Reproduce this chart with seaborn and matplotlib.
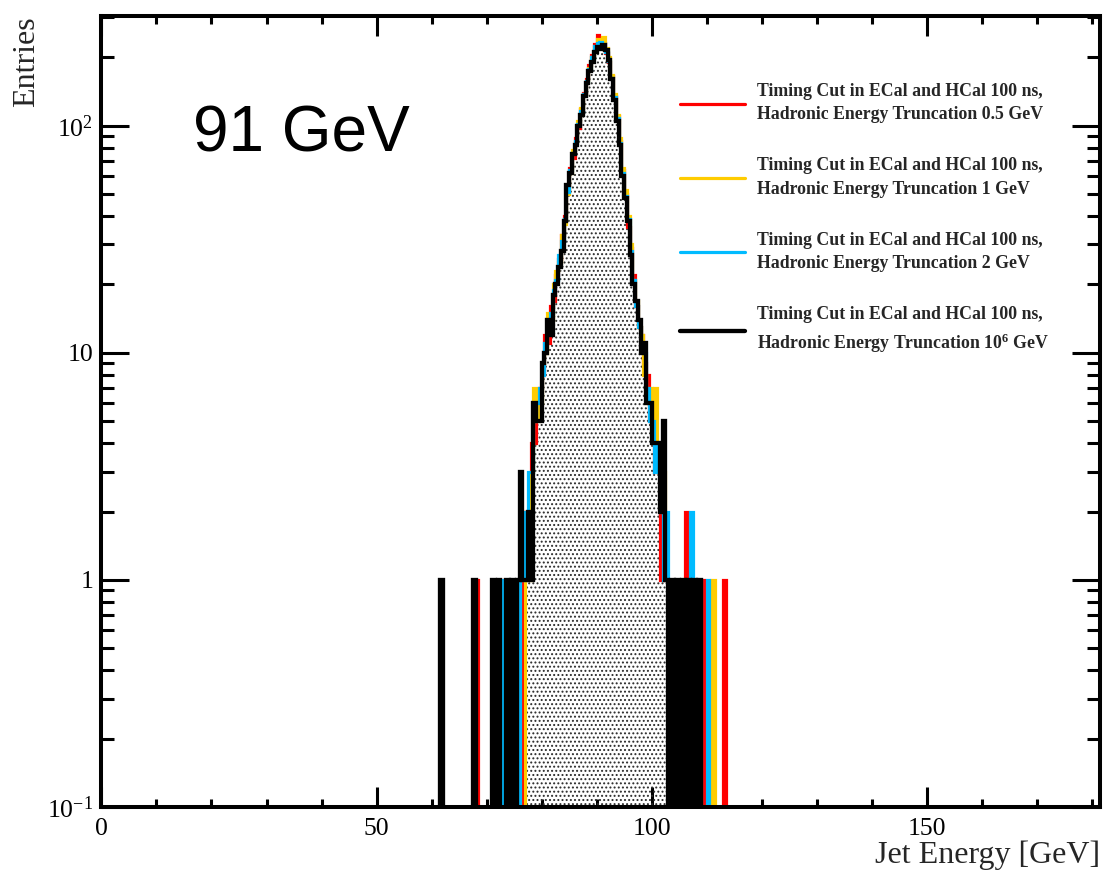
import numpy as np
import pandas as pd
import matplotlib
matplotlib.use("Agg")
import matplotlib.pyplot as plt
from matplotlib.lines import Line2D
from matplotlib.ticker import FixedLocator, FixedFormatter, NullFormatter
import seaborn as sns

# Jet energy histograms, 0.5 GeV bins starting at 60 GeV
bin_low = 60.0
bin_width = 0.5

trunc_0p5 = [
    0, 0, 0, 0, 0, 0, 0, 0, 0, 0,
    0, 0, 0, 0, 0, 0, 1, 0, 0, 0,
    0, 0, 0, 1, 0, 1, 0, 0, 1, 0,
    1, 1, 0, 2, 1, 2, 4, 4, 6, 7,
    8, 12, 11, 16, 17, 22, 26, 33, 40, 52,
    65, 72, 88, 98, 118, 140, 160, 185, 205, 230,
    250, 240, 232, 210, 190, 165, 135, 110, 86, 64,
    50, 36, 29, 22, 16, 13, 12, 9, 8, 5,
    6, 3, 3, 1, 2, 1, 1, 0, 1, 0,
    1, 0, 2, 0, 0, 0, 1, 0, 1, 0,
    0, 0, 0, 0, 0, 0, 1, 0, 0, 0,
]
trunc_1 = [
    0, 0, 0, 0, 0, 0, 0, 0, 0, 0,
    0, 0, 0, 0, 0, 0, 0, 0, 0, 0,
    0, 0, 1, 0, 0, 0, 0, 1, 0, 0,
    0, 1, 0, 0, 2, 1, 3, 7, 5, 6,
    9, 10, 15, 14, 20, 23, 25, 33, 37, 50,
    62, 78, 85, 105, 120, 138, 158, 180, 200, 222,
    240, 238, 245, 220, 200, 168, 138, 112, 88, 65,
    52, 40, 30, 21, 17, 13, 12, 8, 6, 7,
    4, 7, 3, 2, 3, 1, 0, 1, 0, 1,
    0, 1, 0, 1, 0, 0, 1, 0, 0, 0,
    0, 0, 1, 0, 0, 0, 0, 0, 0, 0,
]
trunc_2 = [
    0, 0, 0, 0, 0, 0, 0, 0, 0, 0,
    0, 0, 0, 0, 0, 0, 0, 0, 0, 0,
    0, 0, 0, 0, 0, 0, 1, 0, 0, 1,
    0, 0, 1, 2, 1, 3, 3, 5, 6, 7,
    8, 11, 13, 15, 19, 21, 27, 31, 39, 51,
    64, 76, 86, 102, 116, 138, 157, 178, 200, 225,
    232, 235, 228, 212, 192, 162, 134, 108, 84, 62,
    49, 39, 28, 21, 16, 13, 11, 10, 7, 5,
    5, 3, 4, 2, 1, 2, 1, 0, 1, 0,
    1, 0, 0, 0, 2, 0, 0, 1, 0, 0,
    1, 0, 0, 0, 0, 0, 0, 0, 0, 0,
]
trunc_1e6 = [
    0, 0, 0, 1, 0, 0, 0, 0, 0, 0,
    0, 0, 0, 0, 0, 1, 0, 0, 0, 0,
    0, 0, 1, 0, 1, 0, 0, 1, 0, 1,
    0, 1, 3, 1, 1, 2, 1, 6, 5, 5,
    9, 10, 14, 12, 18, 20, 24, 28, 38, 55,
    62, 75, 82, 100, 112, 135, 155, 175, 190, 212,
    222, 218, 226, 215, 195, 160, 130, 105, 82, 60,
    48, 38, 27, 20, 17, 14, 10, 11, 6, 6,
    4, 4, 4, 2, 5, 1, 0, 1, 0, 1,
    0, 1, 0, 1, 0, 1, 0, 1, 0, 0,
    0, 0, 0, 0, 0, 0, 0, 0, 0, 0,
]

series_labels = [
    "Timing Cut in ECal and HCal 100 ns,\nHadronic Energy Truncation 0.5 GeV",
    "Timing Cut in ECal and HCal 100 ns,\nHadronic Energy Truncation 1 GeV",
    "Timing Cut in ECal and HCal 100 ns,\nHadronic Energy Truncation 2 GeV",
    "Timing Cut in ECal and HCal 100 ns,\nHadronic Energy Truncation 10$^{6}$ GeV",
]
series_colors = ["#ff0000", "#ffcc00", "#00bbff", "#000000"]
series_widths = [2.3, 2.3, 2.3, 3.1]

x_major = [0, 50, 100, 150]
x_major_labels = ["0", "50", "100", "150"]
y_major = [0.1, 1, 10, 100]
y_major_labels = ["10$^{-1}$", "1", "10", "10$^{2}$"]

sns.set_theme(style="ticks")
plt.rcParams["font.family"] = ["Liberation Serif", "DejaVu Serif"]
plt.rcParams["mathtext.fontset"] = "custom"
plt.rcParams["mathtext.rm"] = "Liberation Serif"
plt.rcParams["mathtext.it"] = "Liberation Serif:italic"
plt.rcParams["mathtext.bf"] = "Liberation Serif:bold"
plt.rcParams["mathtext.default"] = "regular"
plt.rcParams["hatch.linewidth"] = 0.9
plt.rcParams["hatch.color"] = "#2a2a2a"

fig = plt.figure(figsize=(11.04, 8.80), dpi=100)
ax = fig.add_axes([0.0919, 0.0830, 0.9045, 0.8983])

n_bins = len(trunc_1e6)
edges = bin_low + bin_width * np.arange(n_bins + 1)
centers = edges[:-1] + bin_width / 2
hist_range = (edges[0], edges[-1])


def draw_hist(vals, **kws):
    frame = pd.DataFrame({"energy": centers, "entries": vals})
    sns.histplot(data=frame, x="energy", weights="entries", bins=n_bins,
                 binrange=hist_range, element="step", ax=ax, **kws)


for vals, col, lw in zip([trunc_0p5, trunc_1, trunc_2], series_colors[:3], series_widths[:3]):
    draw_hist(vals, fill=False, color=col, linewidth=lw)

# dotted fill under the untruncated distribution
n_coll = len(ax.collections)
draw_hist(trunc_1e6, fill=True, color="#2a2a2a")
for coll in ax.collections[n_coll:]:
    coll.set_facecolor("none")
    coll.set_edgecolor("#2a2a2a")
    coll.set_linewidth(0)
    coll.set_hatch("....")
    coll.set_alpha(1)

draw_hist(trunc_1e6, fill=False, color=series_colors[3], linewidth=series_widths[3])

for ln in ax.lines:
    ln.set_solid_joinstyle("miter")

ax.set_yscale("log", nonpositive="clip")
ax.set_xlim(0, 181.5)
ax.set_ylim(0.1, 303)

ax.xaxis.set_major_locator(FixedLocator(x_major))
ax.xaxis.set_major_formatter(FixedFormatter(x_major_labels))
ax.xaxis.set_minor_locator(FixedLocator([v for v in range(10, 181, 10) if v % 50]))
ax.xaxis.set_minor_formatter(NullFormatter())
ax.yaxis.set_major_locator(FixedLocator(y_major))
ax.yaxis.set_major_formatter(FixedFormatter(y_major_labels))
y_minor = [m * 10.0 ** e for e in range(-1, 3) for m in range(2, 10) if m * 10.0 ** e < 303]
ax.yaxis.set_minor_locator(FixedLocator(y_minor))
ax.yaxis.set_minor_formatter(NullFormatter())

ax.tick_params(which="both", direction="in", top=True, right=True,
               width=2.2, color="black", labelsize=18.5, labelcolor="black")
ax.tick_params(axis="x", which="major", length=14.5, pad=8)
ax.tick_params(axis="x", which="minor", length=6)
ax.tick_params(axis="y", which="major", length=20, pad=6)
ax.tick_params(axis="y", which="minor", length=9.5)

for sp in ax.spines.values():
    sp.set_visible(True)
    sp.set_linewidth(2.9)
    sp.set_color("black")
ax.grid(False)
ax.set_facecolor("white")

ax.set_xlabel("Jet Energy [GeV]", loc="right", fontsize=23)
ax.set_ylabel("Entries", loc="top", fontsize=23)
ax.xaxis.set_label_coords(1.0, -0.043)
ax.yaxis.set_label_coords(-0.0606, 1.0)

ax.text(0.0916, 0.8286, "91 GeV", transform=ax.transAxes, fontsize=46,
        family="Liberation Sans", va="baseline", ha="left", color="black")

handles = [Line2D([0], [0], color=c, lw=w) for c, w in zip(series_colors, series_widths)]
leg = ax.legend(handles, series_labels, loc="upper left",
                bbox_to_anchor=(680 / 1104, 1 - 83 / 880), bbox_transform=fig.transFigure,
                frameon=False, prop={"family": "Liberation Serif", "weight": "bold", "size": 12.8},
                handlelength=3.65, handletextpad=0.66, labelspacing=1.9,
                borderpad=0, borderaxespad=0)
for t in leg.get_texts():
    t.set_linespacing(1.5)

fig.savefig("out.png", dpi=100, facecolor="white")
